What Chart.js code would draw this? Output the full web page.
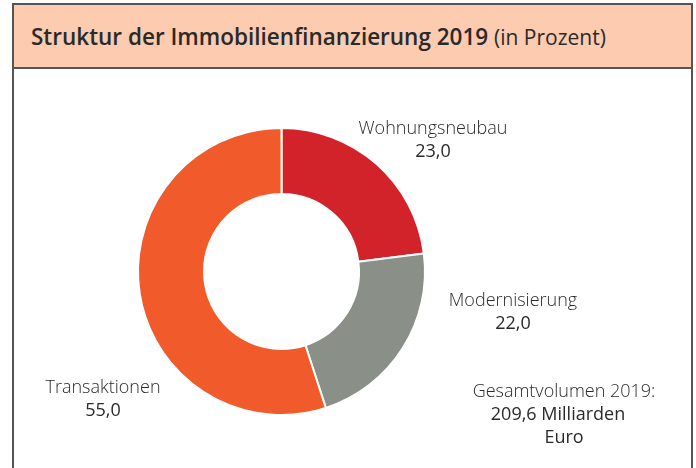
<!DOCTYPE html>
<html lang="de">
<head>
  <meta charset="UTF-8">
  <title>Struktur der Immobilienfinanzierung 2019</title>
  <script src="https://cdn.jsdelivr.net/npm/chart.js"></script>
  <style>
    body {
      margin: 0;
      width: 696px;
      height: 468px;
      overflow: hidden;
      background: #fff;
      font-family: "Open Sans", sans-serif;
      color: #2a2a2a;
    }

    #frame {
      position: absolute;
      left: 12px;
      top: 3px;
      width: 677px;
      height: 480px;
      border: 2px solid #555;
    }

    #header {
      height: 64px;
      background: #fdcbb0;
      border-bottom: 2px solid #555;
      box-sizing: border-box;
      padding: 16px 0 0 17px;
      font-size: 22.5px;
      font-weight: 600;
      line-height: 31px;
      white-space: nowrap;
    }

    #header span {
      font-size: 21px;
      font-weight: 400;
    }

    #chartBox {
      position: absolute;
      left: 13px;
      top: 70px;
      width: 677px;
      height: 398px;
    }
  </style>
</head>
<body>

  <div id="frame">
    <div id="header">Struktur der Immobilienfinanzierung 2019 <span>(in Prozent)</span></div>
  </div>

  <div id="chartBox">
    <canvas id="donut"></canvas>
  </div>

  <script>
    const categories = ['Wohnungsneubau', 'Modernisierung', 'Transaktionen'];
    const shares = [23.0, 22.0, 55.0];
    const totalNote = ['Gesamtvolumen 2019:', '209,6 Milliarden', 'Euro'];

    const sliceColors = ['#d2232b', '#8a8f87', '#f15a2b'];

    // label anchors inside the canvas (centre x, first line y)
    const labelSpots = [
      { x: 420, y: 59 },
      { x: 500, y: 231 },
      { x: 90, y: 318 }
    ];
    const noteSpot = { x: 551, y: 322 };

    const fmt = v => v.toFixed(1).replace('.', ',');

    const labelPlugin = {
      id: 'sliceLabels',
      afterDraw(chart) {
        const ctx = chart.ctx;
        ctx.save();
        ctx.fillStyle = '#2a2a2a';
        ctx.textAlign = 'center';
        ctx.textBaseline = 'middle';
        categories.forEach((name, i) => {
          const p = labelSpots[i];
          ctx.font = '300 18px "Open Sans"';
          ctx.fillText(name, p.x, p.y);
          ctx.font = '400 18px "Open Sans"';
          ctx.fillText(fmt(shares[i]), p.x, p.y + 23);
        });
        ctx.font = '300 18px "Open Sans"';
        ctx.fillText(totalNote[0], noteSpot.x, noteSpot.y);
        ctx.font = '400 18px "Open Sans"';
        ctx.fillText(totalNote[1], noteSpot.x - 6, noteSpot.y + 23);
        ctx.fillText(totalNote[2], noteSpot.x, noteSpot.y + 46);
        ctx.restore();
      }
    };

    new Chart(document.getElementById('donut'), {
      type: 'doughnut',
      data: {
        labels: categories,
        datasets: [{
          data: shares,
          backgroundColor: sliceColors,
          borderColor: '#fff',
          borderWidth: 2
        }]
      },
      options: {
        responsive: true,
        maintainAspectRatio: false,
        animation: false,
        cutout: '54%',
        layout: {
          padding: { left: 124, right: 264, top: 57, bottom: 52 }
        },
        plugins: {
          legend: { display: false },
          tooltip: { enabled: false }
        }
      },
      plugins: [labelPlugin]
    });
  </script>
</body>
</html>
